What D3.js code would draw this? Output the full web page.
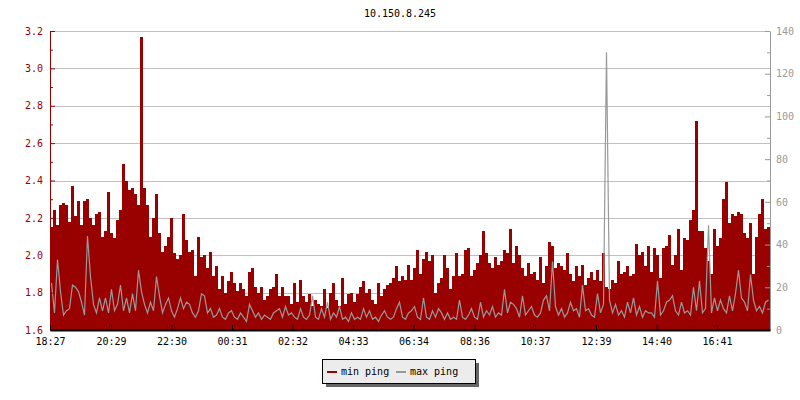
<!DOCTYPE html>
<html><head><meta charset="utf-8">
<script src="https://cdn.jsdelivr.net/npm/d3@7"></script>
<style>
body{margin:0;background:#fff}
svg{display:block}
text{font-family:"DejaVu Sans Mono",monospace;font-size:10px}
</style>
</head><body><svg id="c" width="800" height="400"></svg>
<script>
const title = "10.150.8.245";
const startTime = "18:27";
const sampleMinutes = 6;
const timeLabels = ["18:27","20:29","22:30","00:31","02:32","04:33","06:34","08:36","10:37","12:39","14:40","16:41"];
const leftMajor = [1.6,1.8,2.0,2.2,2.4,2.6,2.8,3.0,3.2];
const leftMinor = [1.7,1.9,2.1,2.3,2.5,2.7,2.9,3.1];
const rightMajor = [0,20,40,60,80,100,120,140];
const rightMinor = [10,30,50,70,90,110,130];
const seriesNames = ["min ping","max ping"];

const minPing = [
2.15,2.24,2.16,2.27,2.28,2.27,2.18,2.37,2.21,2.29,2.16,2.29,2.30,2.20,2.16,2.22,2.23,2.10,2.13,2.34,
2.12,2.09,2.19,2.24,2.49,2.40,2.35,2.36,2.33,2.27,3.17,2.36,2.27,2.10,2.20,2.33,2.12,2.02,2.05,2.10,
2.20,2.01,1.98,2.00,2.22,2.08,2.02,2.03,1.89,2.10,1.99,2.00,1.93,2.02,1.89,1.94,1.82,1.89,1.80,1.86,
1.91,1.85,1.81,1.85,1.82,1.78,1.91,1.93,1.83,1.80,1.83,1.76,1.78,1.82,1.83,1.90,1.78,1.83,1.78,1.78,
1.74,1.85,1.75,1.87,1.78,1.75,1.79,1.73,1.76,1.74,1.73,1.82,1.72,1.80,1.85,1.76,1.73,1.88,1.74,1.79,
1.80,1.75,1.79,1.83,1.86,1.80,1.82,1.76,1.74,1.85,1.78,1.82,1.84,1.85,1.88,1.94,1.86,1.89,1.87,1.95,
1.87,1.93,2.03,1.90,1.98,2.02,1.97,2.00,1.80,1.85,1.88,2.00,1.93,1.82,1.89,2.01,1.89,1.90,2.03,2.04,
1.89,1.92,1.96,2.00,2.13,2.01,1.96,1.93,1.99,1.95,1.97,2.03,2.01,2.14,1.96,2.05,2.00,1.93,1.89,1.96,
1.90,1.91,1.87,1.99,1.85,1.94,2.07,2.05,1.93,1.96,1.94,1.92,2.01,1.90,1.86,1.94,1.89,1.95,1.84,1.88,
1.91,1.87,1.92,1.86,2.01,1.83,1.82,1.87,1.85,1.97,1.90,1.91,1.94,1.89,1.90,2.06,2.00,2.02,1.94,2.05,
1.91,2.04,2.00,1.88,2.04,2.05,2.11,1.95,2.00,2.14,1.92,2.09,2.08,2.19,2.24,2.72,2.13,2.13,2.04,1.97,
1.90,2.14,2.05,2.09,2.30,2.39,2.17,2.22,2.21,2.23,2.22,2.12,2.09,2.17,1.90,2.10,2.22,2.30,2.14,2.15
];
const maxPing = [
22,8,33,18,7,9,10,21,20,18,13,7,44,25,12,8,15,9,15,8,
19,9,12,21,9,15,8,17,9,28,18,12,8,13,9,25,16,8,12,15,
9,6,10,15,10,13,12,8,6,9,17,16,8,10,6,7,10,6,5,8,
9,6,5,8,6,4,12,9,6,8,5,7,6,5,8,9,10,6,11,7,
8,6,5,10,6,5,7,16,6,5,10,6,13,5,8,6,11,5,6,4,
8,5,6,5,10,6,9,5,6,4,7,9,6,5,6,10,13,6,5,8,
9,11,6,5,15,6,5,9,6,10,8,5,8,5,6,5,14,6,5,7,
10,6,5,13,6,9,7,11,6,8,7,19,8,13,12,10,6,16,7,9,
11,7,6,8,14,16,9,32,11,7,10,6,8,13,9,10,6,21,9,10,
7,6,17,8,12,130,14,8,12,7,9,6,13,8,15,7,11,6,9,8,
8,6,23,7,9,13,14,16,9,7,13,8,9,7,20,9,23,8,10,49,
8,15,9,14,10,8,16,9,17,28,15,13,9,26,14,9,11,8,13,14
];

const RED = "#990000", GREY = "#999999", GRID = "#c0c0c0";
const L = 50, R = 770, T = 31, B = 330;
const svg = d3.select("#c");

function toMin(s){ const [h,m] = s.split(":").map(Number); return h*60+m; }
const t0 = toMin(startTime);
const tickMins = timeLabels.map(s => ((toMin(s) - t0) % 1440 + 1440) % 1440);
const span = minPing.length * sampleMinutes;

const x = d3.scaleLinear().domain([0, span]).range([L, R]);
const yL = d3.scaleLinear().domain([1.6, 3.2]).range([B, T]);
const yR = d3.scaleLinear().domain([0, 140]).range([B, T]);

const minData = minPing.map((v,i) => ({t: i*sampleMinutes, v}));
minData.push({t: span, v: minPing[minPing.length-1]});
const maxData = maxPing.map((v,i) => ({t: (i+0.5)*sampleMinutes, v}));

// title
svg.append("text").attr("x", 400).attr("y", 17).attr("text-anchor","middle").attr("fill","#000").text(title);

// grid
svg.append("g").selectAll("line").data(leftMajor.slice(1)).join("line")
  .attr("x1", L).attr("x2", R).attr("y1", d => Math.round(yL(d))+0.5).attr("y2", d => Math.round(yL(d))+0.5)
  .attr("stroke", GRID).attr("stroke-width", 1);

// area
svg.append("path").datum(minData)
  .attr("d", d3.area().curve(d3.curveStepAfter).x(d => x(d.t)).y0(B).y1(d => yL(d.v)))
  .attr("fill", RED).attr("shape-rendering","crispEdges");

// grey line
svg.append("path").datum(maxData)
  .attr("d", d3.line().x(d => x(d.t)).y(d => yR(d.v)))
  .attr("fill","none").attr("stroke", GREY).attr("stroke-width", 1.2).attr("stroke-linejoin","miter");

// left axis
const gl = svg.append("g").attr("transform", `translate(${L},0)`);
gl.call(d3.axisLeft(yL).tickValues(leftMajor).tickFormat(d3.format(".1f")).tickSizeInner(-5).tickSizeOuter(0).tickPadding(7));
gl.append("g").call(d3.axisLeft(yL).tickValues(leftMinor).tickFormat("").tickSizeInner(-3).tickSizeOuter(0))
  .select(".domain").remove();
gl.selectAll("line").attr("stroke", RED);
gl.selectAll(".domain").attr("stroke", RED);
gl.selectAll("text").attr("fill", RED).style("font-size","10px").style("font-family","DejaVu Sans Mono, monospace");

// right axis
const gr = svg.append("g").attr("transform", `translate(${R},0)`);
gr.call(d3.axisRight(yR).tickValues(rightMajor).tickSizeInner(-5).tickSizeOuter(0).tickPadding(6));
gr.append("g").call(d3.axisRight(yR).tickValues(rightMinor).tickFormat("").tickSizeInner(-3).tickSizeOuter(0))
  .select(".domain").remove();
gr.selectAll("line").attr("stroke", GREY);
gr.selectAll(".domain").attr("stroke", GREY);
gr.selectAll("text").attr("fill", GREY).style("font-size","10px").style("font-family","DejaVu Sans Mono, monospace");

// bottom axis
const gb = svg.append("g").attr("transform", `translate(0,${B})`);
gb.call(d3.axisBottom(x).tickValues(tickMins).tickFormat((d,i) => timeLabels[i]).tickSizeInner(-5).tickSizeOuter(0).tickPadding(8));
gb.selectAll("line").attr("stroke", "#000");
gb.select(".domain").attr("stroke", "#000").attr("stroke-width", 2);
gb.selectAll("text").attr("fill", "#000").style("font-size","10px").style("font-family","DejaVu Sans Mono, monospace");

// legend
const lg = svg.append("g");
lg.append("rect").attr("x", 326).attr("y", 363).attr("width", 153).attr("height", 24).attr("fill", "#666");
lg.append("rect").attr("x", 322.5).attr("y", 359.5).attr("width", 153).attr("height", 24).attr("fill", "#ececec").attr("stroke","#000");
const items = [{name: seriesNames[0], c: RED, x: 327}, {name: seriesNames[1], c: GREY, x: 396}];
items.forEach(it => {
  lg.append("line").attr("x1", it.x).attr("x2", it.x+10).attr("y1", 372).attr("y2", 372).attr("stroke", it.c).attr("stroke-width", 2);
  lg.append("text").attr("x", it.x+14).attr("y", 375).attr("fill","#000").text(it.name);
});
</script>
</body></html>
